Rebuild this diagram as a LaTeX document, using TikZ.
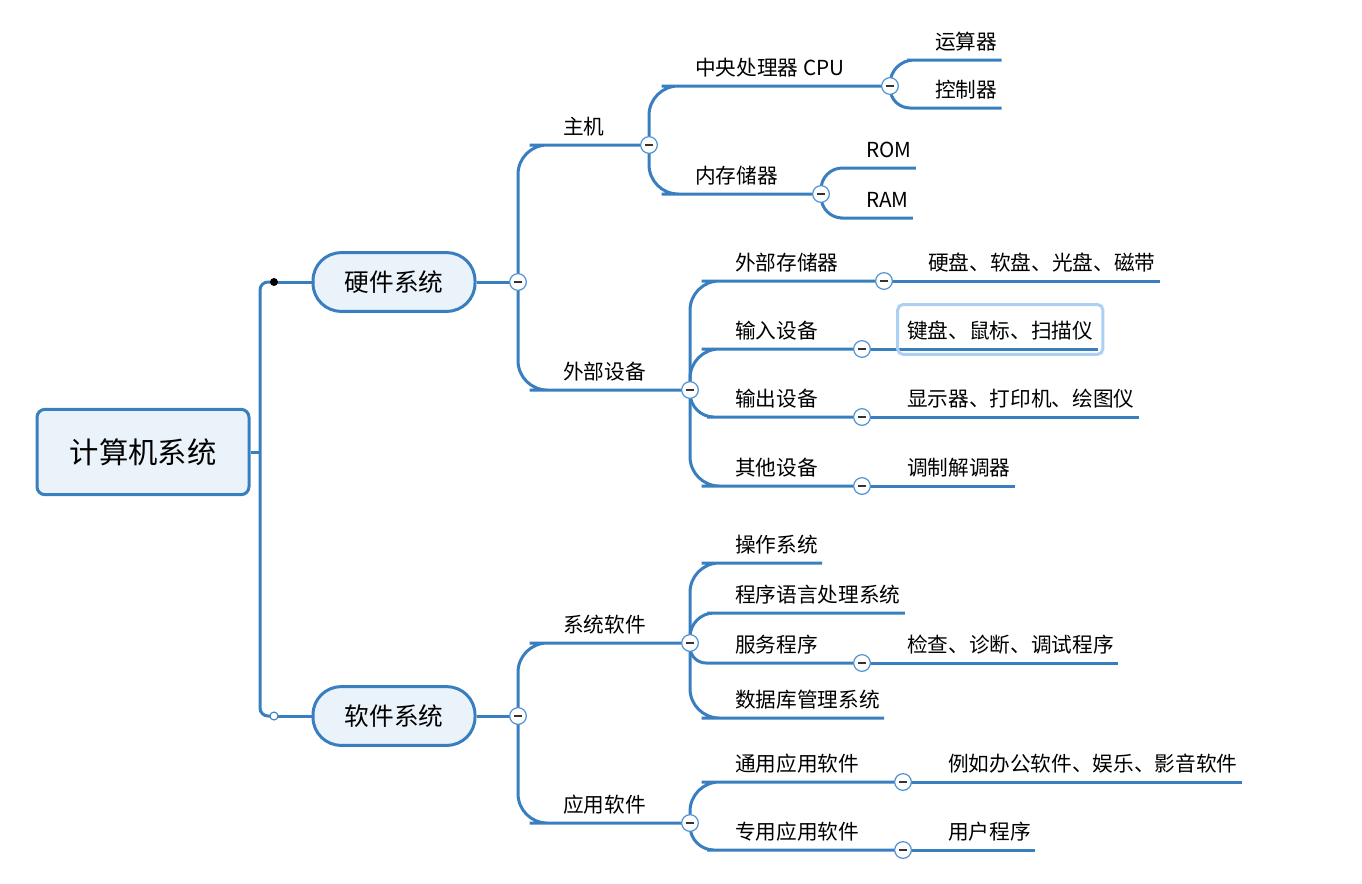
\documentclass[tikz,border=0pt]{standalone}
\usepackage{fontspec}
\setmainfont{Noto Sans CJK SC}
\usetikzlibrary{fit}
\definecolor{mapblue}{RGB}{57,127,192}
\definecolor{foldblue}{RGB}{80,146,208}
\definecolor{nodefill}{RGB}{234,242,250}
\definecolor{selblue}{RGB}{172,208,244}
\begin{document}
\begin{tikzpicture}[x=0.75pt,y=-0.75pt,
 link/.style={draw=mapblue,line width=2.25pt},
 rootbox/.style={draw=mapblue,fill=nodefill,line width=2.25pt,rounded corners=6pt,minimum width=159pt,minimum height=64pt,font=\fontsize{22pt}{26pt}\selectfont},
 mainbox/.style={draw=mapblue,fill=nodefill,line width=2.25pt,rounded corners=21pt,minimum width=121.5pt,minimum height=44pt,font=\fontsize{18.5pt}{22pt}\selectfont},
 topic/.style={anchor=south west,inner xsep=3pt,inner ysep=7.9pt,text depth=0pt,font=\fontsize{15.5pt}{18pt}\selectfont},
 selbox/.style={draw=selblue,line width=2.25pt,rounded corners=4pt,inner sep=4pt},
 fold/.style={circle,draw=foldblue,fill=white,line width=0.9pt,minimum size=12.5pt,inner sep=0pt,
  path picture={\draw[black!80,line width=0.8pt] ([xshift=-3pt]path picture bounding box.center)--([xshift=3pt]path picture bounding box.center);}},
 knob/.style={circle,inner sep=0pt,minimum size=6pt}]
 \useasboundingbox (0,0) rectangle (1362,883);
 \node[rootbox] (root) at (143,452) {计算机系统};
 \node[mainbox] (hw) at (394,282) {硬件系统};
 \node[mainbox] (sw) at (394,716) {软件系统};
 % hardware
 \node[topic] (zj) at (559,145) {主机};
 \node[topic] (wb) at (559,390) {外部设备};
 \node[topic] (cpu) at (691,86) {中央处理器 CPU};
 \node[topic] (nc) at (691,194) {内存储器};
 \node[topic] (ysq) at (931,60) {运算器};
 \node[topic] (kzq) at (931,108) {控制器};
 \node[topic] (rom) at (862,168) {ROM};
 \node[topic] (ram) at (862,218) {RAM};
 \node[topic] (wc) at (731,281) {外部存储器};
 \node[topic] (sr) at (731,349) {输入设备};
 \node[topic] (sc) at (731,417) {输出设备};
 \node[topic] (qt) at (731,486) {其他设备};
 \node[topic] (yp) at (924,281) {硬盘、软盘、光盘、磁带};
 \node[topic] (jp) at (903,349) {键盘、鼠标、扫描仪};
 \node[topic] (xs) at (903,417) {显示器、打印机、绘图仪};
 \node[topic] (tz) at (903,486) {调制解调器};
 % software
 \node[topic] (xt) at (559,643) {系统软件};
 \node[topic] (yy) at (559,823) {应用软件};
 \node[topic] (cz) at (731,563) {操作系统};
 \node[topic] (cx) at (731,613) {程序语言处理系统};
 \node[topic] (fw) at (731,663) {服务程序};
 \node[topic] (sj) at (731,718) {数据库管理系统};
 \node[topic] (jc) at (903,663) {检查、诊断、调试程序};
 \node[topic] (ty) at (731,782) {通用应用软件};
 \node[topic] (zy) at (731,850) {专用应用软件};
 \node[topic] (lr) at (944,782) {例如办公软件、娱乐、影音软件};
 \node[topic] (yh) at (944,850) {用户程序};
 % fold buttons
 \coordinate (spine) at (260,452);
 \coordinate (dhw) at (274,282);
 \coordinate (dsw) at (274,716);
 \foreach \f/\x/\y in {fhw/518/282,fsw/518/716,fzj/649/145,fwb/690/390,fcpu/890/86,fnc/821/194,
  fwc/884/281,fsr/862/349,fsc/862/417,fqt/862/486,fxt/690/643,fyy/690/823,ffw/862/663,fty/903/782,fzy/903/850}
  \coordinate (\f) at (\x,\y);
 \draw[link] (root.east) -- (spine);
 \draw[link,rounded corners=6pt] (dhw) -| (spine) |- (dsw);
 \draw[link] (dhw) -- (hw) (dsw) -- (sw) (hw) -- (fhw) (sw) -- (fsw);
 \foreach \a/\b/\c/\r in {fhw/zj/fzj/22pt,fhw/wb/fwb/22pt,fzj/cpu/fcpu/22pt,fzj/nc/fnc/22pt,
  fwb/wc/fwc/22pt,fwb/sr/fsr/22pt,fwb/sc/fsc/18pt,fwb/qt/fqt/22pt,fsw/xt/fxt/22pt,fsw/yy/fyy/22pt,
  fxt/fw/ffw/12pt,fyy/ty/fty/22pt,fyy/zy/fzy/18pt}
  \draw[link,rounded corners=\r] (\a) |- (\b.south west) -- (\c);
 \foreach \a/\b/\r in {fcpu/ysq/18pt,fcpu/kzq/15pt,fnc/rom/16pt,fnc/ram/16pt,fxt/cz/22pt,fxt/cx/18pt,fxt/sj/22pt}
  \draw[link,rounded corners=\r] (\a) |- (\b.south west) -- (\b.south east);
 \foreach \a/\b in {fwc/yp,fsr/jp,fsc/xs,fqt/tz,ffw/jc,fty/lr,fzy/yh}
  \draw[link] (\a) -- (\b.south east);
 \node[selbox,fit=(jp)] (sel) {};
 \foreach \f in {fhw,fsw,fzj,fwb,fcpu,fnc,fwc,fsr,fsc,fqt,fxt,fyy,ffw,fty,fzy}
  \node[fold] (\f-b) at (\f) {};
 \node[knob,fill=black] (khw) at (dhw) {};
 \node[knob,draw=mapblue,fill=white,line width=0.8pt] (ksw) at (dsw) {};
\end{tikzpicture}
\end{document}
